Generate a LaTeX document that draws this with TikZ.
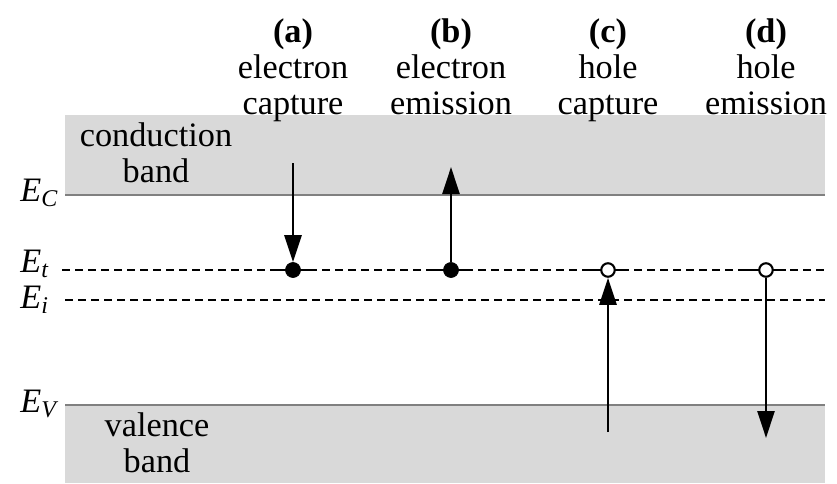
\documentclass[tikz,border=0pt]{standalone}
\usepackage{fontspec}
\setmainfont{Liberation Serif}
\usetikzlibrary{arrows.meta}

\tikzset{
  band/.style={fill=black!15, draw=none},
  edge/.style={draw=black!50, line width=0.6pt},
  level/.style={dashed, dash pattern=on 0.16cm off 0.1cm, line width=0.6pt},
  trapfull/.style={circle, fill=black, draw=black, inner sep=0pt, minimum size=0.3cm},
  trapopen/.style={circle, fill=white, draw=black, line width=1.2pt, inner sep=0pt, minimum size=0.27cm},
  bar/.style={line width=1.6pt},
  head/.style={align=center, anchor=north, inner sep=0pt},
  elabel/.style={anchor=base west, inner sep=0pt}
}

\begin{document}
\begin{tikzpicture}[>={Triangle[length=0.54cm,width=0.34cm]}, font=\fontsize{19.5}{20.5}\selectfont]
\useasboundingbox (0,0) rectangle (16.74,9.66);

% bands
\fill[band] (1.3,5.76) rectangle (16.5,7.36);
\fill[band] (1.3,0) rectangle (16.5,1.56);
\draw[edge] (1.3,5.76) -- (16.5,5.76);
\draw[edge] (1.3,1.56) -- (16.5,1.56);
\draw[level] (1.24,4.26) -- (16.56,4.26);
\draw[level] (1.3,3.66) -- (16.5,3.66);

\node[align=center, inner sep=0pt] (cb) at (3.12,6.6) {conduction\\band};
\node[align=center, inner sep=0pt] (vb) at (3.14,0.8) {valence\\band};

\node[elabel] (ec) at (0.4,5.64) {\textit{E}\textsubscript{\textit{C}}};
\node[elabel] (et) at (0.4,4.22) {\textit{E}\textsubscript{\textit{t}}};
\node[elabel] (ei) at (0.4,3.5) {\textit{E}\textsubscript{\textit{i}}};
\node[elabel] (ev) at (0.4,1.42) {\textit{E}\textsubscript{\textit{V}}};

% process headings
\node[head] (ha) at (5.86,9.3) {\textbf{(a)}\\electron\\capture};
\node[head] (hb) at (9.02,9.3) {\textbf{(b)}\\electron\\emission};
\node[head] (hc) at (12.16,9.3) {\textbf{(c)}\\hole\\capture};
\node[head] (hd) at (15.32,9.3) {\textbf{(d)}\\hole\\emission};

% traps
\foreach \x in {5.86,9.02,12.16,15.32}
  \draw[bar] (\x-0.4,4.26) -- (\x+0.4,4.26);
\node[trapfull] (ta) at (5.86,4.26) {};
\node[trapfull] (tb) at (9.02,4.26) {};
\node[trapopen] (tc) at (12.16,4.26) {};
\node[trapopen] (td) at (15.32,4.26) {};

\coordinate (a0) at (5.86,6.4);
\coordinate (b1) at (9.02,6.32);
\coordinate (c0) at (12.16,1.02);
\coordinate (d1) at (15.32,0.9);

\draw[->, line width=1.5pt] (a0) -- (ta);
\draw[->, line width=1.5pt] (tb) -- (b1);
\draw[->, line width=1.5pt] (c0) -- (tc);
\draw[->, line width=1.5pt] (td) -- (d1);
\end{tikzpicture}
\end{document}
